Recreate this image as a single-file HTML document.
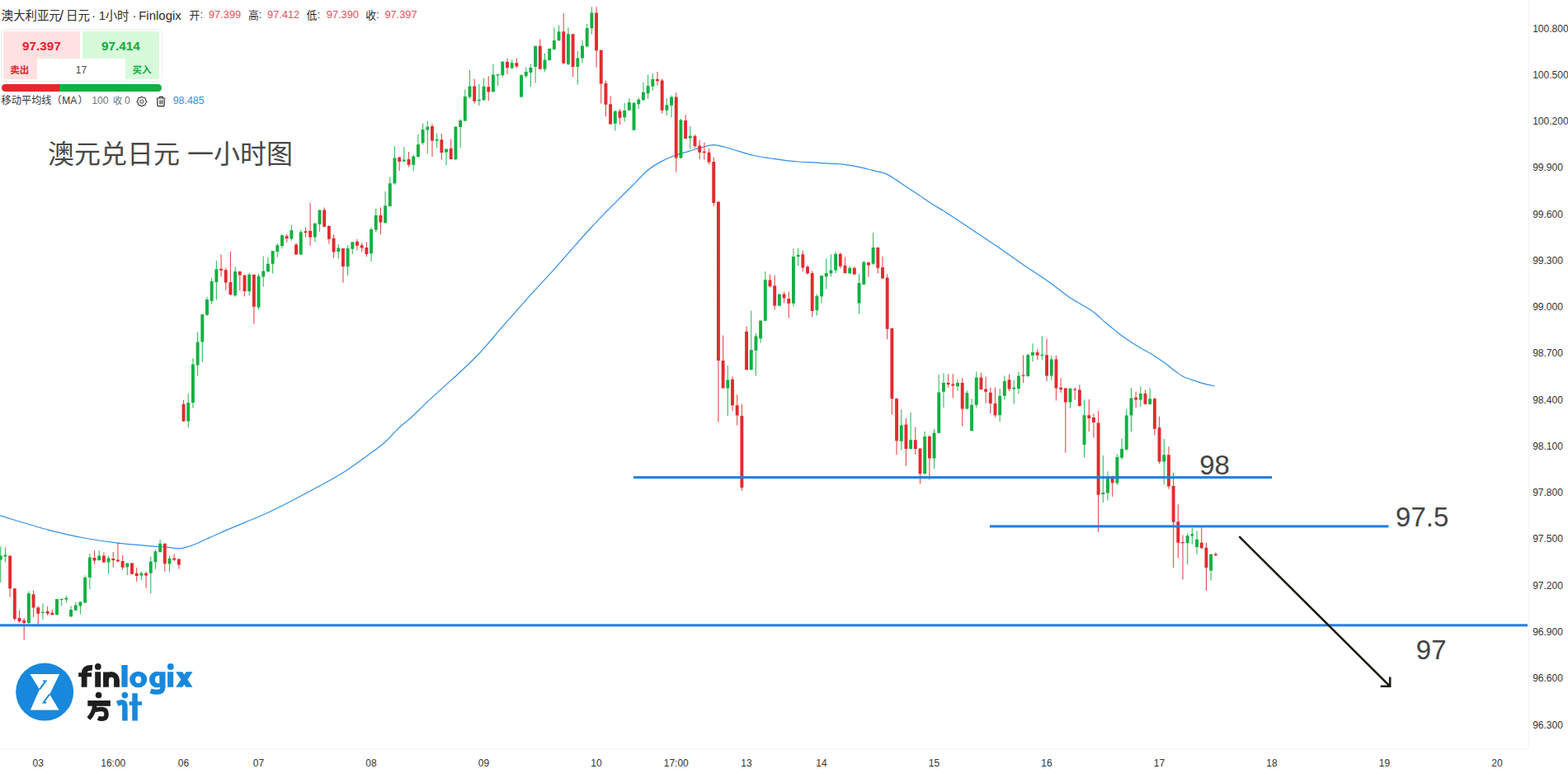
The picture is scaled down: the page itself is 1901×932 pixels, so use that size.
<!DOCTYPE html>
<html lang="zh"><head><meta charset="utf-8"><title>AUDJPY 1H</title><style>
html,body{margin:0;padding:0;background:#fff}
body{width:1901px;height:932px;overflow:hidden;position:relative;font-family:"Liberation Sans",sans-serif}
svg{position:absolute;left:0;top:0}
.t{position:absolute;height:20px;line-height:20px;white-space:nowrap}
.c{transform:translateX(-50%)}
.wb{position:absolute;left:.8px;top:35px;border:1px solid #ededed;border-radius:6px;box-sizing:border-box;width:196px;height:64px}
.wp{position:absolute;left:3.6px;top:38.1px;width:93.5px;height:58.3px;background:#ffe1e1;border-radius:3px 0 0 3px}
.wg{position:absolute;left:99.8px;top:38.1px;width:93.7px;height:58.3px;background:#d7fadb;border-radius:0 3px 3px 0}
.ww{position:absolute;left:44.6px;top:71.3px;width:107.4px;height:25px;background:#fff}
.pr{position:absolute;left:1.5px;top:102.2px;width:80px;height:8.6px;background:#e5282c;border-radius:4.3px 0 0 4.3px;width:70.5px}
.pgn{position:absolute;left:72px;top:102.2px;width:123.5px;height:8.6px;background:#10b041;border-radius:0 4.3px 4.3px 0}
</style></head><body>
<div class="wb"></div><div class="wp"></div><div class="wg"></div><div class="ww"></div><div class="pr"></div><div class="pgn"></div>
<svg width="1901" height="932" viewBox="0 0 1901 932">
<rect x="1853" y="0" width="1" height="908" fill="#f4f4f4"/>
<rect x="0" y="907" width="1854" height="1" fill="#f4f4f4"/>
<path fill="none" stroke="#2f8fe6" stroke-width="1.2" d="M0.0 624.9C5.0 626.4 19.8 631.0 30.0 634.0C40.2 637.0 49.0 639.8 61.0 642.8C73.0 645.8 88.4 649.5 102.0 652.0C115.6 654.5 129.1 656.5 142.7 658.1C156.3 659.7 173.9 661.0 183.5 661.8C193.1 662.6 195.4 662.4 200.0 662.8C204.6 663.2 208.2 663.9 211.0 664.3C213.8 664.6 214.3 665.0 216.5 664.9C218.7 664.8 220.8 664.5 224.0 663.6C227.2 662.8 229.0 662.7 236.0 659.8C243.0 656.9 256.0 650.6 266.0 646.2C276.0 641.8 286.0 637.9 296.0 633.6C306.0 629.4 316.0 625.4 326.0 620.7C336.0 616.1 346.0 610.9 356.0 605.7C366.0 600.6 376.0 595.3 386.0 589.8C396.0 584.3 406.0 579.1 416.0 572.7C426.0 566.4 437.5 557.9 446.0 551.7C454.5 545.5 461.0 541.0 467.0 535.7C473.0 530.4 476.5 525.3 482.0 520.1C487.5 514.9 494.0 510.0 500.0 504.5C506.0 499.0 512.0 492.8 518.0 487.1C524.0 481.5 529.5 476.5 536.0 470.6C542.5 464.7 550.0 458.2 557.0 451.7C564.0 445.2 572.5 437.1 578.0 431.5C583.5 425.9 585.0 424.0 590.0 418.3C595.0 412.6 602.0 404.1 608.0 397.2C614.0 390.3 620.0 383.6 626.0 376.8C632.0 370.1 638.0 363.3 644.0 356.7C650.0 350.1 656.0 343.8 662.0 337.2C668.0 330.6 674.0 323.9 680.0 317.1C686.0 310.3 692.0 303.4 698.0 296.6C704.0 289.8 710.0 283.0 716.0 276.5C722.0 270.0 728.0 263.8 734.0 257.6C740.0 251.5 746.0 245.6 752.0 239.6C758.0 233.6 764.5 227.1 770.0 221.6C775.5 216.1 780.0 210.7 785.0 206.5C790.0 202.3 794.5 199.6 800.0 196.6C805.5 193.6 812.0 190.8 818.0 188.5C824.0 186.2 830.5 184.8 836.0 183.1C841.5 181.4 846.2 179.8 851.0 178.6C855.8 177.3 860.3 175.7 864.8 175.6C869.3 175.5 872.8 176.7 878.0 178.0C883.2 179.3 890.0 181.7 896.0 183.4C902.0 185.2 908.0 187.2 914.0 188.5C920.0 189.8 926.0 190.6 932.0 191.5C938.0 192.4 944.0 193.4 950.0 194.2C956.0 194.9 962.0 195.6 968.0 196.0C974.0 196.4 980.0 196.6 986.0 196.9C992.0 197.2 998.3 197.8 1004.0 198.1C1009.7 198.4 1014.2 198.2 1020.0 198.8C1025.8 199.4 1032.6 200.6 1038.9 201.9C1045.2 203.2 1051.9 205.0 1057.7 206.4C1063.5 207.8 1069.3 208.8 1073.5 210.4C1077.7 212.0 1078.7 213.2 1082.9 215.8C1087.1 218.4 1093.4 222.8 1098.6 226.2C1103.8 229.6 1109.0 233.0 1114.3 236.5C1119.5 240.0 1124.8 243.8 1130.1 247.2C1135.3 250.6 1140.6 253.4 1145.8 256.7C1151.0 260.0 1156.3 263.6 1161.5 267.0C1166.7 270.4 1172.0 273.9 1177.2 277.4C1182.5 280.9 1187.8 284.6 1193.0 288.1C1198.2 291.6 1203.5 294.9 1208.7 298.5C1213.9 302.1 1219.2 305.8 1224.4 309.5C1229.6 313.2 1234.9 316.9 1240.1 320.5C1245.3 324.1 1250.5 327.4 1255.8 330.9C1261.0 334.4 1266.9 338.2 1271.6 341.6C1276.3 345.0 1280.0 347.9 1284.2 351.0C1288.4 354.1 1292.0 357.2 1296.7 360.4C1301.4 363.5 1307.5 366.8 1312.5 369.9C1317.5 372.9 1321.9 375.1 1326.6 378.7C1331.3 382.3 1336.3 387.5 1340.8 391.3C1345.2 395.1 1349.1 398.3 1353.3 401.6C1357.5 404.9 1361.2 407.9 1365.9 411.1C1370.6 414.4 1376.3 418.0 1381.6 421.1C1386.8 424.2 1392.2 426.6 1397.4 429.9C1402.7 433.1 1408.4 437.2 1413.1 440.6C1417.8 444.0 1422.0 447.7 1425.7 450.4C1429.4 453.1 1431.4 454.9 1435.1 456.7C1438.8 458.5 1443.5 459.7 1447.7 461.1C1451.9 462.5 1456.1 464.1 1460.3 465.2C1464.5 466.3 1470.7 467.5 1472.8 468.0"/>
<path d="M0.75 662.2V706.0M6.44 663.2V681.6M34.88 716.6V756.0M51.94 731.5V750.9M69.00 726.0V745.2M74.69 725.8V734.6M80.38 721.9V730.5M86.06 734.6V747.8M91.75 730.1V740.3M97.44 728.9V744.4M103.12 697.5V730.5M108.81 670.4V714.2M120.19 667.3V679.5M131.56 673.4V695.4M154.31 682.6V696.9M171.38 692.8V703.0M182.75 674.4V719.3M188.44 666.3V689.7M194.12 654.0V669.3M205.50 673.8V693.4M228.25 477.0V518.3M233.94 434.0V494.5M239.62 402.5V455.5M245.31 381.0V438.8M251.00 359.8V383.0M256.69 336.9V368.2M262.38 316.0V363.4M285.12 323.6V359.8M302.19 330.8V357.9M313.56 331.9V375.4M319.25 310.4V347.5M324.94 311.8V330.0M330.62 304.0V331.4M336.31 295.1V311.8M342.00 283.9V301.2M353.38 272.8V291.8M364.75 278.4V309.1M381.81 270.2V293.2M387.50 254.5V280.8M410.25 295.9V313.5M421.62 297.3V333.8M427.31 293.2V307.9M450.06 275.2V316.9M455.75 253.1V281.5M467.12 231.9V270.7M472.81 214.4V250.4M478.50 177.2V223.8M489.88 177.9V195.9M501.25 187.8V207.1M506.94 162.5V190.7M512.62 149.5V175.6M518.31 146.8V186.2M529.69 161.4V179.4M541.06 180.6V200.4M552.44 153.4V194.2M558.12 144.2V179.2M563.81 108.4V147.0M569.50 84.8V119.7M580.88 101.9V128.1M586.56 94.8V121.9M597.94 77.7V112.0M603.62 90.1V104.1M609.31 74.0V93.8M620.69 72.5V83.7M632.06 90.1V118.0M637.75 81.5V94.4M643.44 77.7V105.2M649.12 55.8V100.4M660.50 64.4V86.9M666.19 58.4V73.4M671.88 33.3V60.5M677.56 30.5V49.8M688.94 33.3V79.0M700.31 61.8V102.6M706.00 48.9V76.2M711.69 29.0V57.5M717.38 8.2V41.2M745.81 133.7V158.4M757.19 124.7V147.6M762.88 119.1V134.1M768.56 124.0V157.7M774.25 118.2V132.0M779.94 99.8V121.9M785.62 90.8V119.7M791.31 89.1V110.1M808.38 119.1V140.1M814.06 115.5V142.3M825.44 144.0V192.1M836.81 153.0V180.5M882.31 442.9V504.0M910.75 376.4V448.3M916.44 403.9V455.4M922.12 388.4V415.6M927.81 329.1V389.2M944.88 356.2V371.2M961.94 301.2V371.6M967.62 300.8V322.3M990.38 356.6V382.4M996.06 334.1V367.3M1001.75 313.7V350.2M1007.44 308.3V335.2M1013.12 305.1V330.9M1030.19 322.3V331.9M1041.56 332.2V380.5M1047.25 316.8V345.5M1058.62 281.8V321.1M1092.75 496.2V545.5M1104.12 499.8V544.5M1121.19 523.0V574.9M1132.56 519.8V568.1M1138.25 454.3V525.2M1143.94 452.6V494.0M1161.00 460.3V473.6M1172.38 473.6V496.2M1178.06 483.3V522.6M1183.75 450.5V494.0M1212.19 471.1V511.2M1217.88 455.4V484.4M1229.25 460.8V489.8M1234.94 450.5V477.6M1246.31 428.6V456.5M1252.00 416.2V438.3M1263.38 407.6V436.1M1274.75 430.8V460.8M1297.50 469.4V494.7M1314.56 484.4V554.8M1337.31 551.9V609.2M1343.00 571.2V606.6M1354.38 550.4V587.7M1360.06 531.5V557.3M1365.75 495.5V546.5M1371.44 470.3V522.9M1382.81 468.3V493.0M1394.19 470.5V490.9M1411.25 531.9V587.3M1439.69 646.3V684.1M1445.38 639.4V659.8M1451.06 643.3V671.8M1468.12 671.4V703.7" stroke="#10b041" stroke-width="1.1" stroke-opacity=".85" fill="none"/>
<path d="M12.12 673.4V723.4M17.81 713.2V752.5M23.50 739.7V755.0M29.19 748.9V775.4M40.56 715.8V747.8M46.25 734.6V757.0M57.62 735.0V745.8M63.31 738.7V745.2M114.50 667.3V683.6M125.88 669.3V682.0M137.25 668.9V687.7M142.94 658.1V681.2M148.62 673.0V690.7M160.00 682.6V696.2M165.69 688.1V705.0M177.06 692.8V712.8M199.81 658.7V692.8M211.19 671.4V679.9M216.88 677.5V689.7M222.56 484.8V511.3M268.06 308.5V335.6M273.75 324.4V351.7M279.44 304.9V357.9M290.81 328.6V352.3M296.50 333.6V359.3M307.88 332.8V392.7M347.69 283.9V293.7M359.06 294.5V309.1M370.44 275.2V287.6M376.12 245.9V297.7M393.19 251.5V275.2M398.88 272.9V295.5M404.56 284.2V312.4M415.94 301.1V342.8M433.00 289.8V303.4M438.69 294.3V305.6M444.38 293.2V311.2M461.44 251.5V284.2M484.19 190.0V207.1M495.56 183.9V202.6M524.00 150.1V190.0M535.38 162.1V193.6M546.75 168.5V193.1M575.19 95.5V125.5M592.25 92.3V122.3M615.00 70.4V90.1M626.38 70.4V82.6M654.81 47.6V84.1M683.25 16.1V77.7M694.62 41.2V93.3M723.06 8.2V82.0M728.75 60.7V125.5M734.44 97.6V141.2M740.12 116.5V151.3M751.50 132.0V150.9M797.00 86.9V103.6M802.69 95.5V137.6M819.75 112.2V208.8M831.12 139.1V168.5M842.50 163.3V179.8M848.19 169.7V193.3M853.88 172.7V193.8M859.56 179.8V199.1M865.25 190.6V250.0M870.94 244.6V511.6M876.62 406.4V470.4M888.00 456.2V498.3M893.69 478.3V515.5M899.38 489.7V594.8M905.06 395.2V448.3M933.50 332.6V348.5M939.19 333.4V375.5M950.56 353.4V367.3M956.25 353.4V385.6M973.31 303.4V329.1M979.00 321.2V333.0M984.69 328.3V384.1M1018.81 306.2V325.5M1024.50 311.5V331.3M1035.88 323.3V333.4M1052.94 316.8V335.5M1064.31 299.6V331.2M1070.00 310.8V338.2M1075.69 332.2V411.2M1081.38 397.7V502.6M1087.06 482.2V551.3M1098.44 506.9V564.8M1109.81 517.6V550.9M1115.50 543.4V586.3M1126.88 526.9V581.4M1149.62 453.3V469.8M1155.31 453.3V482.2M1166.69 458.2V516.6M1189.44 451.8V472.6M1195.12 456.5V488.7M1200.81 469.8V501.1M1206.50 469.4V505.8M1223.56 453.9V474.1M1240.62 430.3V464.0M1257.69 423.3V436.1M1269.06 410.4V461.9M1280.44 430.8V485.5M1286.12 458.2V476.3M1291.81 470.5V548.8M1303.19 469.4V484.4M1308.88 466.2V492.6M1320.25 484.0V523.0M1325.94 501.6V530.6M1331.62 498.2V644.8M1348.69 576.6V601.9M1377.12 474.8V494.1M1388.50 472.6V490.4M1399.88 482.1V527.6M1405.56 504.7V562.0M1416.94 541.2V592.7M1422.62 572.7V687.9M1428.31 611.3V675.9M1434.00 648.4V702.4M1456.75 638.8V665.3M1462.44 657.8V715.7M1473.81 669.4V673.6" stroke="#e22b2f" stroke-width="1.1" stroke-opacity=".85" fill="none"/>
<path d="M-1.20 673.4h3.9V678.5h-3.9zM4.49 672.4h3.9V674.4h-3.9zM32.92 719.3h3.9V755.0h-3.9zM49.99 741.7h3.9V743.1h-3.9zM67.05 726.0h3.9V745.2h-3.9zM72.74 725.8h3.9V727.0h-3.9zM78.42 724.8h3.9V726.4h-3.9zM84.11 739.1h3.9V747.2h-3.9zM89.80 733.6h3.9V739.7h-3.9zM95.49 729.5h3.9V734.6h-3.9zM101.17 699.9h3.9V730.5h-3.9zM106.86 675.4h3.9V699.9h-3.9zM118.24 673.4h3.9V679.1h-3.9zM129.61 676.5h3.9V681.6h-3.9zM152.36 682.6h3.9V687.3h-3.9zM169.43 694.8h3.9V697.5h-3.9zM180.80 680.5h3.9V694.8h-3.9zM186.49 668.3h3.9V681.2h-3.9zM192.18 658.7h3.9V669.3h-3.9zM203.55 677.1h3.9V683.6h-3.9zM226.30 488.1h3.9V510.4h-3.9zM231.99 441.5h3.9V488.1h-3.9zM237.68 414.5h3.9V442.4h-3.9zM243.36 381.0h3.9V414.5h-3.9zM249.05 362.9h3.9V381.6h-3.9zM254.74 341.1h3.9V364.8h-3.9zM260.43 326.3h3.9V342.0h-3.9zM283.18 329.1h3.9V357.9h-3.9zM300.24 332.8h3.9V353.1h-3.9zM311.61 334.7h3.9V372.6h-3.9zM317.30 328.6h3.9V335.6h-3.9zM322.99 319.7h3.9V329.1h-3.9zM328.68 304.0h3.9V319.7h-3.9zM334.36 297.3h3.9V304.9h-3.9zM340.05 285.3h3.9V297.9h-3.9zM351.43 278.9h3.9V289.5h-3.9zM362.80 281.2h3.9V308.5h-3.9zM379.86 270.7h3.9V287.6h-3.9zM385.55 254.5h3.9V271.8h-3.9zM408.30 300.4h3.9V304.9h-3.9zM419.68 301.1h3.9V323.0h-3.9zM425.36 293.2h3.9V301.8h-3.9zM448.11 277.9h3.9V307.2h-3.9zM453.80 261.0h3.9V278.6h-3.9zM465.18 249.3h3.9V270.2h-3.9zM470.86 222.2h3.9V250.0h-3.9zM476.55 191.4h3.9V222.2h-3.9zM487.93 193.6h3.9V195.4h-3.9zM499.30 189.6h3.9V199.7h-3.9zM504.99 174.9h3.9V190.0h-3.9zM510.68 156.9h3.9V173.3h-3.9zM516.36 153.5h3.9V157.6h-3.9zM527.74 168.8h3.9V170.4h-3.9zM539.11 180.6h3.9V184.6h-3.9zM550.49 153.4h3.9V193.1h-3.9zM556.17 145.9h3.9V154.1h-3.9zM561.86 117.0h3.9V146.4h-3.9zM567.55 104.5h3.9V117.6h-3.9zM578.92 120.8h3.9V122.3h-3.9zM584.61 104.7h3.9V121.2h-3.9zM595.99 90.6h3.9V111.2h-3.9zM601.67 90.1h3.9V91.4h-3.9zM607.36 74.7h3.9V91.2h-3.9zM618.74 76.2h3.9V82.6h-3.9zM630.11 91.2h3.9V117.6h-3.9zM635.80 86.9h3.9V92.3h-3.9zM641.49 82.0h3.9V88.0h-3.9zM647.17 55.8h3.9V81.1h-3.9zM658.55 72.5h3.9V83.7h-3.9zM664.24 59.0h3.9V73.0h-3.9zM669.92 48.9h3.9V59.7h-3.9zM675.61 38.2h3.9V48.9h-3.9zM686.99 41.2h3.9V77.7h-3.9zM698.36 70.4h3.9V81.1h-3.9zM704.05 55.4h3.9V70.4h-3.9zM709.74 33.9h3.9V56.2h-3.9zM715.42 15.5h3.9V34.3h-3.9zM743.86 134.8h3.9V149.8h-3.9zM755.24 134.1h3.9V142.3h-3.9zM760.92 124.0h3.9V133.7h-3.9zM766.61 124.7h3.9V157.7h-3.9zM772.30 120.8h3.9V126.2h-3.9zM777.99 111.8h3.9V121.2h-3.9zM783.67 104.1h3.9V113.3h-3.9zM789.36 96.1h3.9V104.7h-3.9zM806.42 127.3h3.9V133.7h-3.9zM812.11 117.6h3.9V127.7h-3.9zM823.49 145.5h3.9V191.6h-3.9zM834.86 164.8h3.9V167.6h-3.9zM880.36 460.5h3.9V470.4h-3.9zM908.80 424.0h3.9V448.3h-3.9zM914.49 407.5h3.9V424.7h-3.9zM920.17 388.4h3.9V410.3h-3.9zM925.86 339.0h3.9V388.8h-3.9zM942.92 356.6h3.9V370.6h-3.9zM959.99 311.1h3.9V367.8h-3.9zM965.67 309.0h3.9V311.1h-3.9zM988.42 358.8h3.9V375.9h-3.9zM994.11 334.1h3.9V359.2h-3.9zM999.80 330.9h3.9V335.2h-3.9zM1005.49 327.6h3.9V331.3h-3.9zM1011.17 307.7h3.9V327.6h-3.9zM1028.24 324.8h3.9V331.3h-3.9zM1039.61 343.0h3.9V367.6h-3.9zM1045.30 317.6h3.9V344.7h-3.9zM1056.67 300.0h3.9V319.8h-3.9zM1090.80 515.5h3.9V534.8h-3.9zM1102.17 533.3h3.9V544.0h-3.9zM1119.24 529.0h3.9V574.1h-3.9zM1130.61 524.7h3.9V555.6h-3.9zM1136.30 475.4h3.9V524.7h-3.9zM1141.99 464.0h3.9V474.7h-3.9zM1159.05 464.0h3.9V468.3h-3.9zM1170.42 476.2h3.9V495.5h-3.9zM1176.11 490.8h3.9V521.9h-3.9zM1181.80 457.6h3.9V490.8h-3.9zM1210.24 479.7h3.9V503.3h-3.9zM1215.92 461.8h3.9V479.7h-3.9zM1227.30 469.8h3.9V471.5h-3.9zM1232.99 455.5h3.9V471.1h-3.9zM1244.36 430.3h3.9V456.1h-3.9zM1250.05 426.9h3.9V430.8h-3.9zM1261.42 429.7h3.9V430.9h-3.9zM1272.80 435.5h3.9V455.5h-3.9zM1295.55 471.1h3.9V487.6h-3.9zM1312.61 503.3h3.9V539.1h-3.9zM1335.36 597.0h3.9V599.1h-3.9zM1341.05 579.1h3.9V597.6h-3.9zM1352.42 554.0h3.9V585.6h-3.9zM1358.11 543.9h3.9V554.7h-3.9zM1363.80 503.6h3.9V544.8h-3.9zM1369.49 482.6h3.9V503.6h-3.9zM1380.86 476.9h3.9V484.4h-3.9zM1392.24 483.3h3.9V489.8h-3.9zM1409.30 551.2h3.9V559.4h-3.9zM1437.74 649.3h3.9V658.3h-3.9zM1443.42 647.3h3.9V649.6h-3.9zM1449.11 653.8h3.9V663.1h-3.9zM1466.17 671.8h3.9V691.6h-3.9z" fill="#10b041"/>
<path d="M10.18 673.4h3.9V713.2h-3.9zM15.86 713.2h3.9V749.9h-3.9zM21.55 748.9h3.9V752.9h-3.9zM27.24 751.9h3.9V755.0h-3.9zM38.61 720.3h3.9V736.6h-3.9zM44.30 736.2h3.9V743.8h-3.9zM55.67 740.7h3.9V743.8h-3.9zM61.36 742.7h3.9V745.2h-3.9zM112.55 675.9h3.9V679.5h-3.9zM123.92 673.4h3.9V681.6h-3.9zM135.30 677.1h3.9V679.1h-3.9zM140.99 678.5h3.9V680.5h-3.9zM146.68 679.9h3.9V687.7h-3.9zM158.05 682.6h3.9V695.8h-3.9zM163.74 694.8h3.9V697.9h-3.9zM175.11 694.8h3.9V697.5h-3.9zM197.86 658.7h3.9V683.2h-3.9zM209.24 676.5h3.9V678.5h-3.9zM214.93 677.5h3.9V684.6h-3.9zM220.61 489.8h3.9V510.4h-3.9zM266.11 325.8h3.9V327.7h-3.9zM271.80 327.2h3.9V342.5h-3.9zM277.49 342.0h3.9V357.0h-3.9zM288.86 329.1h3.9V333.6h-3.9zM294.55 333.6h3.9V353.1h-3.9zM305.93 332.8h3.9V371.8h-3.9zM345.74 286.2h3.9V289.0h-3.9zM357.11 296.5h3.9V308.5h-3.9zM368.49 280.2h3.9V282.0h-3.9zM374.18 279.7h3.9V287.6h-3.9zM391.24 254.5h3.9V274.7h-3.9zM396.93 274.1h3.9V289.8h-3.9zM402.61 288.7h3.9V305.6h-3.9zM413.99 301.1h3.9V323.0h-3.9zM431.05 292.8h3.9V297.7h-3.9zM436.74 297.3h3.9V300.4h-3.9zM442.43 300.0h3.9V307.9h-3.9zM459.49 261.0h3.9V269.6h-3.9zM482.24 190.7h3.9V195.9h-3.9zM493.61 193.0h3.9V199.7h-3.9zM522.05 153.1h3.9V170.4h-3.9zM533.42 169.3h3.9V185.1h-3.9zM544.80 179.8h3.9V193.1h-3.9zM573.24 104.5h3.9V122.7h-3.9zM590.30 105.2h3.9V111.2h-3.9zM613.05 75.1h3.9V82.2h-3.9zM624.42 76.2h3.9V80.5h-3.9zM652.86 55.8h3.9V83.7h-3.9zM681.30 38.2h3.9V76.8h-3.9zM692.67 41.2h3.9V81.1h-3.9zM721.11 15.5h3.9V61.2h-3.9zM726.80 60.7h3.9V101.5h-3.9zM732.49 101.1h3.9V126.8h-3.9zM738.17 126.2h3.9V150.4h-3.9zM749.55 134.8h3.9V142.7h-3.9zM795.05 96.1h3.9V98.3h-3.9zM800.74 97.6h3.9V133.7h-3.9zM817.80 117.6h3.9V191.6h-3.9zM829.17 146.1h3.9V168.0h-3.9zM840.55 164.8h3.9V177.0h-3.9zM846.24 176.6h3.9V184.8h-3.9zM851.92 183.5h3.9V185.2h-3.9zM857.61 184.8h3.9V196.4h-3.9zM863.30 195.9h3.9V246.1h-3.9zM868.99 244.6h3.9V436.9h-3.9zM874.67 436.9h3.9V470.4h-3.9zM886.05 459.7h3.9V491.2h-3.9zM891.74 491.2h3.9V503.4h-3.9zM897.42 504.0h3.9V591.0h-3.9zM903.11 401.7h3.9V448.3h-3.9zM931.55 339.4h3.9V347.0h-3.9zM937.24 346.3h3.9V370.6h-3.9zM948.61 356.6h3.9V361.3h-3.9zM954.30 362.0h3.9V367.8h-3.9zM971.36 308.3h3.9V324.4h-3.9zM977.05 323.3h3.9V331.3h-3.9zM982.74 330.9h3.9V377.0h-3.9zM1016.86 307.7h3.9V322.7h-3.9zM1022.55 321.8h3.9V330.9h-3.9zM1033.92 324.8h3.9V332.6h-3.9zM1050.99 318.3h3.9V321.5h-3.9zM1062.36 300.0h3.9V324.7h-3.9zM1068.05 324.1h3.9V337.6h-3.9zM1073.74 336.5h3.9V398.8h-3.9zM1079.42 397.7h3.9V483.3h-3.9zM1085.11 483.3h3.9V534.2h-3.9zM1096.49 514.4h3.9V544.0h-3.9zM1107.86 533.3h3.9V544.0h-3.9zM1113.55 543.4h3.9V574.1h-3.9zM1124.92 529.0h3.9V555.6h-3.9zM1147.67 464.0h3.9V466.1h-3.9zM1153.36 465.5h3.9V467.6h-3.9zM1164.74 464.0h3.9V495.5h-3.9zM1187.49 457.6h3.9V471.9h-3.9zM1193.17 471.5h3.9V474.7h-3.9zM1198.86 475.8h3.9V489.1h-3.9zM1204.55 489.1h3.9V503.3h-3.9zM1221.61 460.3h3.9V471.5h-3.9zM1238.67 454.4h3.9V455.7h-3.9zM1255.74 426.9h3.9V430.8h-3.9zM1267.11 430.3h3.9V455.5h-3.9zM1278.49 435.5h3.9V470.5h-3.9zM1284.17 469.8h3.9V472.0h-3.9zM1289.86 470.5h3.9V487.6h-3.9zM1301.24 471.5h3.9V472.8h-3.9zM1306.92 472.6h3.9V491.9h-3.9zM1318.30 503.3h3.9V507.0h-3.9zM1323.99 505.9h3.9V511.9h-3.9zM1329.67 512.6h3.9V599.7h-3.9zM1346.74 579.1h3.9V585.2h-3.9zM1375.17 481.8h3.9V484.4h-3.9zM1386.55 476.9h3.9V489.8h-3.9zM1397.92 483.2h3.9V519.7h-3.9zM1403.61 518.2h3.9V559.4h-3.9zM1414.99 551.2h3.9V589.4h-3.9zM1420.67 589.0h3.9V632.7h-3.9zM1426.36 632.3h3.9V657.8h-3.9zM1432.05 657.1h3.9V658.3h-3.9zM1454.80 657.8h3.9V664.3h-3.9zM1460.49 663.8h3.9V687.9h-3.9zM1471.86 671.4h3.9V673.3h-3.9z" fill="#e22b2f"/>
<rect x="768" y="577.1" width="774" height="3" fill="#1f7fe5"/>
<rect x="1200" y="636.4" width="483.5" height="3" fill="#1f7fe5"/>
<rect x="0" y="756.3" width="1852" height="3" fill="#1f7fe5"/>
<path d="M1502.3 650.2L1685 831.6M1685.2 820.5V831.8H1673.8" stroke="#1b1b12" stroke-width="2.6" fill="none" stroke-linecap="butt" stroke-linejoin="miter"/>
<g font-family='"Liberation Sans","Noto Sans CJK SC",sans-serif' fill="#2b2b2b">
<text x="1.8" y="23.6" font-size="14.4">澳大利亚元</text>
<text x="80" y="23.6" font-size="14.4">日元</text>
<text x="127.7" y="23.6" font-size="14.4">小时</text>
<text x="229.6" y="23.4" font-size="12.8">开</text>
<text x="300.9" y="23.4" font-size="12.8">高</text>
<text x="371.6" y="23.4" font-size="12.8">低</text>
<text x="443.2" y="23.4" font-size="12.8">收</text>
<text x="12.3" y="89" font-size="11.5" font-weight="bold" fill="#e5222b">卖出</text>
<text x="160.6" y="89" font-size="11.5" font-weight="bold" fill="#12a93d">买入</text>
<text x="1.6" y="125.8" font-size="12.2" fill="#333">移动平均线（</text>
<text x="94.4" y="125.8" font-size="12.2" fill="#333">）</text>
<text x="136.8" y="125.8" font-size="11.6" fill="#777">收</text>
<text x="58" y="198" font-size="32" fill="#484848">澳元兑日元</text>
<text x="227" y="198" font-size="32" fill="#484848">一小时图</text>
</g>
<circle cx="54.15" cy="838.6" r="35" fill="#1888dc"/>
<path d="M36.4 816.9H72.1L60.2 841.6L71.6 860.6H36.9L47.9 835.4Z" fill="#fff"/>
<path d="M47.9 835.6L55.5 825.4H52M60.2 841.4L52.7 851.5H56.2" fill="none" stroke="#1888dc" stroke-width="1.9"/>
<g transform="translate(90 798) scale(.08797)"><g fill="#1e1e1e" stroke="#1e1e1e"><path d="M250 130Q138 118 138 215V396" fill="none" stroke-width="77"/><path stroke="none" d="M59 195.5H240V253H59zM286.5 184.5H366V396H286.5zM399 187H476V396H399zM185.4 581H499V656H185.4z"/><circle stroke="none" cx="327.5" cy="113.2" r="44"/><circle stroke="none" cx="336" cy="505.6" r="43.5"/><path d="M437.3 294.3A74 74 0 0 1 585.3 294.3V396" fill="none" stroke-width="77"/><path d="M281 650Q276 745 198 830" fill="none" stroke-width="62"/><path d="M290 709Q340 697 385 699Q444 704 444 770Q444 830 386 832Q355 832 328 820" fill="none" stroke-width="62"/></g><g fill="#1888dc" stroke="#1888dc"><path stroke="none" d="M652.6 91.3H735V394H652.6zM1286.3 184.5H1366V396H1286.3zM1176.5 184.5H1256V400H1176.5zM1398.8 184.5H1489.3L1632 396H1541.4zM1541.4 184.5H1632L1492 396H1401.5zM798.7 481H873.2V859.2H798.7zM758.5 592.7H933.4V644.3H758.5z"/><path stroke="none" fill-rule="evenodd" d="M762.3 290A120.7 111 0 1 0 1003.7 290A120.7 111 0 1 0 762.3 290zM842 293A41 48 0 1 0 924 293A41 48 0 1 0 842 293zM1034 290A106 111 0 1 0 1246 290A106 111 0 1 0 1034 290zM1177 236V344Q1114 352 1114 290Q1114 228 1177 236z"/><circle stroke="none" cx="1327.5" cy="113.2" r="44"/><circle stroke="none" cx="697.2" cy="506.7" r="43.5"/><path d="M1220 380V398Q1220 463 1140 463Q1095 463 1052 447" fill="none" stroke-width="68"/><path d="M592 622Q640 603 665 607Q698 612 698 660V859.2" fill="none" stroke-width="74"/></g></g>
<g fill="none" stroke="#333" stroke-width="1.05" stroke-linejoin="round"><path d="M171.90 117.15L172.28 117.23L172.63 117.45L172.94 117.75L173.22 118.07L173.48 118.34L173.76 118.52L174.07 118.59L174.45 118.58L174.87 118.55L175.31 118.56L175.71 118.65L176.04 118.86L176.25 119.19L176.34 119.59L176.35 120.03L176.32 120.45L176.31 120.83L176.38 121.14L176.56 121.42L176.83 121.68L177.15 121.96L177.45 122.27L177.67 122.62L177.75 123.00L177.67 123.38L177.45 123.73L177.15 124.04L176.83 124.32L176.56 124.58L176.38 124.86L176.31 125.17L176.32 125.55L176.35 125.97L176.34 126.41L176.25 126.81L176.04 127.14L175.71 127.35L175.31 127.44L174.87 127.45L174.45 127.42L174.07 127.41L173.76 127.48L173.48 127.66L173.22 127.93L172.94 128.25L172.63 128.55L172.28 128.77L171.90 128.85L171.52 128.77L171.17 128.55L170.86 128.25L170.58 127.93L170.32 127.66L170.04 127.48L169.73 127.41L169.35 127.42L168.93 127.45L168.49 127.44L168.09 127.35L167.76 127.14L167.55 126.81L167.46 126.41L167.45 125.97L167.48 125.55L167.49 125.17L167.42 124.86L167.24 124.58L166.97 124.32L166.65 124.04L166.35 123.73L166.13 123.38L166.05 123.00L166.13 122.62L166.35 122.27L166.65 121.96L166.97 121.68L167.24 121.42L167.42 121.14L167.49 120.83L167.48 120.45L167.45 120.03L167.46 119.59L167.55 119.19L167.76 118.86L168.09 118.65L168.49 118.56L168.93 118.55L169.35 118.58L169.73 118.59L170.04 118.52L170.32 118.34L170.58 118.07L170.86 117.75L171.17 117.45L171.52 117.23Z"/><circle cx="171.9" cy="123" r="2.05" stroke="#555"/></g>
<g fill="none" stroke="#2a2a2a" stroke-width="1.25"><path d="M189.4 119.1h11.3" stroke="#666"/><path d="M193.2 118.9v-1q0-.5.5-.5h3.2q.5 0 .5.5v1" stroke-width="1.3"/><path d="M190.9 119.5v8q0 1 1 1h6.2q1 0 1-1v-8M194.1 121.3v5.3M196.5 121.3v5.3"/></g>
</svg>
<div class="t" style="left:72.3px;top:8.6px;font-size:17px;color:#2b2b2b;">/</div>
<div class="t" style="left:111.1px;top:8.8px;font-size:15px;color:#2b2b2b;">·</div>
<div class="t" style="left:119.8px;top:8.8px;font-size:15px;color:#2b2b2b;">1</div>
<div class="t" style="left:160.5px;top:8.8px;font-size:15px;color:#2b2b2b;">·</div>
<div class="t" style="left:168.2px;top:8.8px;font-size:15px;color:#2b2b2b;">Finlogix</div>
<div class="t" style="left:253px;top:8.4px;font-size:12.8px;color:#e2505a;">97.399</div>
<div class="t" style="left:324.1px;top:8.4px;font-size:12.8px;color:#e2505a;">97.412</div>
<div class="t" style="left:395.8px;top:8.4px;font-size:12.8px;color:#e2505a;">97.390</div>
<div class="t" style="left:466.4px;top:8.4px;font-size:12.8px;color:#e2505a;">97.397</div>
<div class="t" style="left:242.5px;top:8.4px;font-size:13px;color:#2b2b2b;">:</div>
<div class="t" style="left:313.8px;top:8.4px;font-size:13px;color:#2b2b2b;">:</div>
<div class="t" style="left:384.8px;top:8.4px;font-size:13px;color:#2b2b2b;">:</div>
<div class="t" style="left:456px;top:8.4px;font-size:13px;color:#2b2b2b;">:</div>
<div class="t" style="left:75.2px;top:111.7px;font-size:12px;color:#333;">MA</div>
<div class="t c" style="left:50.5px;top:45.8px;font-size:15.3px;color:#e5222b;font-weight:bold;">97.397</div>
<div class="t c" style="left:146.3px;top:45.8px;font-size:15.3px;color:#12a93d;font-weight:bold;">97.414</div>
<div class="t c" style="left:98.5px;top:74.5px;font-size:12px;color:#444;">17</div>
<div class="t" style="left:111.2px;top:111.7px;font-size:12.3px;color:#777;">100</div>
<div class="t" style="left:151px;top:111.7px;font-size:12.3px;color:#777;">0</div>
<div class="t" style="left:209.7px;top:111.7px;font-size:12.4px;color:#2f8fe6;">98.485</div>
<div class="t" style="left:1858.2px;top:24.5px;font-size:12px;color:#333;white-space:nowrap;">100.800</div>
<div class="t" style="left:1858.2px;top:80.77px;font-size:12px;color:#333;white-space:nowrap;">100.500</div>
<div class="t" style="left:1858.2px;top:137.04px;font-size:12px;color:#333;white-space:nowrap;">100.200</div>
<div class="t" style="left:1858.2px;top:193.31px;font-size:12px;color:#333;white-space:nowrap;">99.900</div>
<div class="t" style="left:1858.2px;top:249.58px;font-size:12px;color:#333;white-space:nowrap;">99.600</div>
<div class="t" style="left:1858.2px;top:305.85px;font-size:12px;color:#333;white-space:nowrap;">99.300</div>
<div class="t" style="left:1858.2px;top:362.12px;font-size:12px;color:#333;white-space:nowrap;">99.000</div>
<div class="t" style="left:1858.2px;top:418.39px;font-size:12px;color:#333;white-space:nowrap;">98.700</div>
<div class="t" style="left:1858.2px;top:474.66px;font-size:12px;color:#333;white-space:nowrap;">98.400</div>
<div class="t" style="left:1858.2px;top:530.93px;font-size:12px;color:#333;white-space:nowrap;">98.100</div>
<div class="t" style="left:1858.2px;top:587.2px;font-size:12px;color:#333;white-space:nowrap;">97.800</div>
<div class="t" style="left:1858.2px;top:643.47px;font-size:12px;color:#333;white-space:nowrap;">97.500</div>
<div class="t" style="left:1858.2px;top:699.74px;font-size:12px;color:#333;white-space:nowrap;">97.200</div>
<div class="t" style="left:1858.2px;top:756.01px;font-size:12px;color:#333;white-space:nowrap;">96.900</div>
<div class="t" style="left:1858.2px;top:812.28px;font-size:12px;color:#333;white-space:nowrap;">96.600</div>
<div class="t" style="left:1858.2px;top:868.55px;font-size:12px;color:#333;white-space:nowrap;">96.300</div>
<div class="t c" style="left:46.25px;top:915.2px;font-size:12px;color:#333;">03</div>
<div class="t c" style="left:137.25px;top:915.2px;font-size:12px;color:#333;">16:00</div>
<div class="t c" style="left:222.562px;top:915.2px;font-size:12px;color:#333;">06</div>
<div class="t c" style="left:313.562px;top:915.2px;font-size:12px;color:#333;">07</div>
<div class="t c" style="left:450.062px;top:915.2px;font-size:12px;color:#333;">08</div>
<div class="t c" style="left:586.562px;top:915.2px;font-size:12px;color:#333;">09</div>
<div class="t c" style="left:723.062px;top:915.2px;font-size:12px;color:#333;">10</div>
<div class="t c" style="left:819.75px;top:915.2px;font-size:12px;color:#333;">17:00</div>
<div class="t c" style="left:905.062px;top:915.2px;font-size:12px;color:#333;">13</div>
<div class="t c" style="left:996.062px;top:915.2px;font-size:12px;color:#333;">14</div>
<div class="t c" style="left:1132.56px;top:915.2px;font-size:12px;color:#333;">15</div>
<div class="t c" style="left:1269.06px;top:915.2px;font-size:12px;color:#333;">16</div>
<div class="t c" style="left:1405.56px;top:915.2px;font-size:12px;color:#333;">17</div>
<div class="t c" style="left:1542.06px;top:915.2px;font-size:12px;color:#333;">18</div>
<div class="t c" style="left:1678.56px;top:915.2px;font-size:12px;color:#333;">19</div>
<div class="t c" style="left:1815.06px;top:915.2px;font-size:12px;color:#333;">20</div>
<div class="t" style="left:1454.2px;top:554px;font-size:33px;color:#444;">98</div>
<div class="t" style="left:1692.1px;top:617.3px;font-size:33px;color:#444;">97.5</div>
<div class="t" style="left:1716.8px;top:778px;font-size:33px;color:#444;">97</div>
</body></html>
